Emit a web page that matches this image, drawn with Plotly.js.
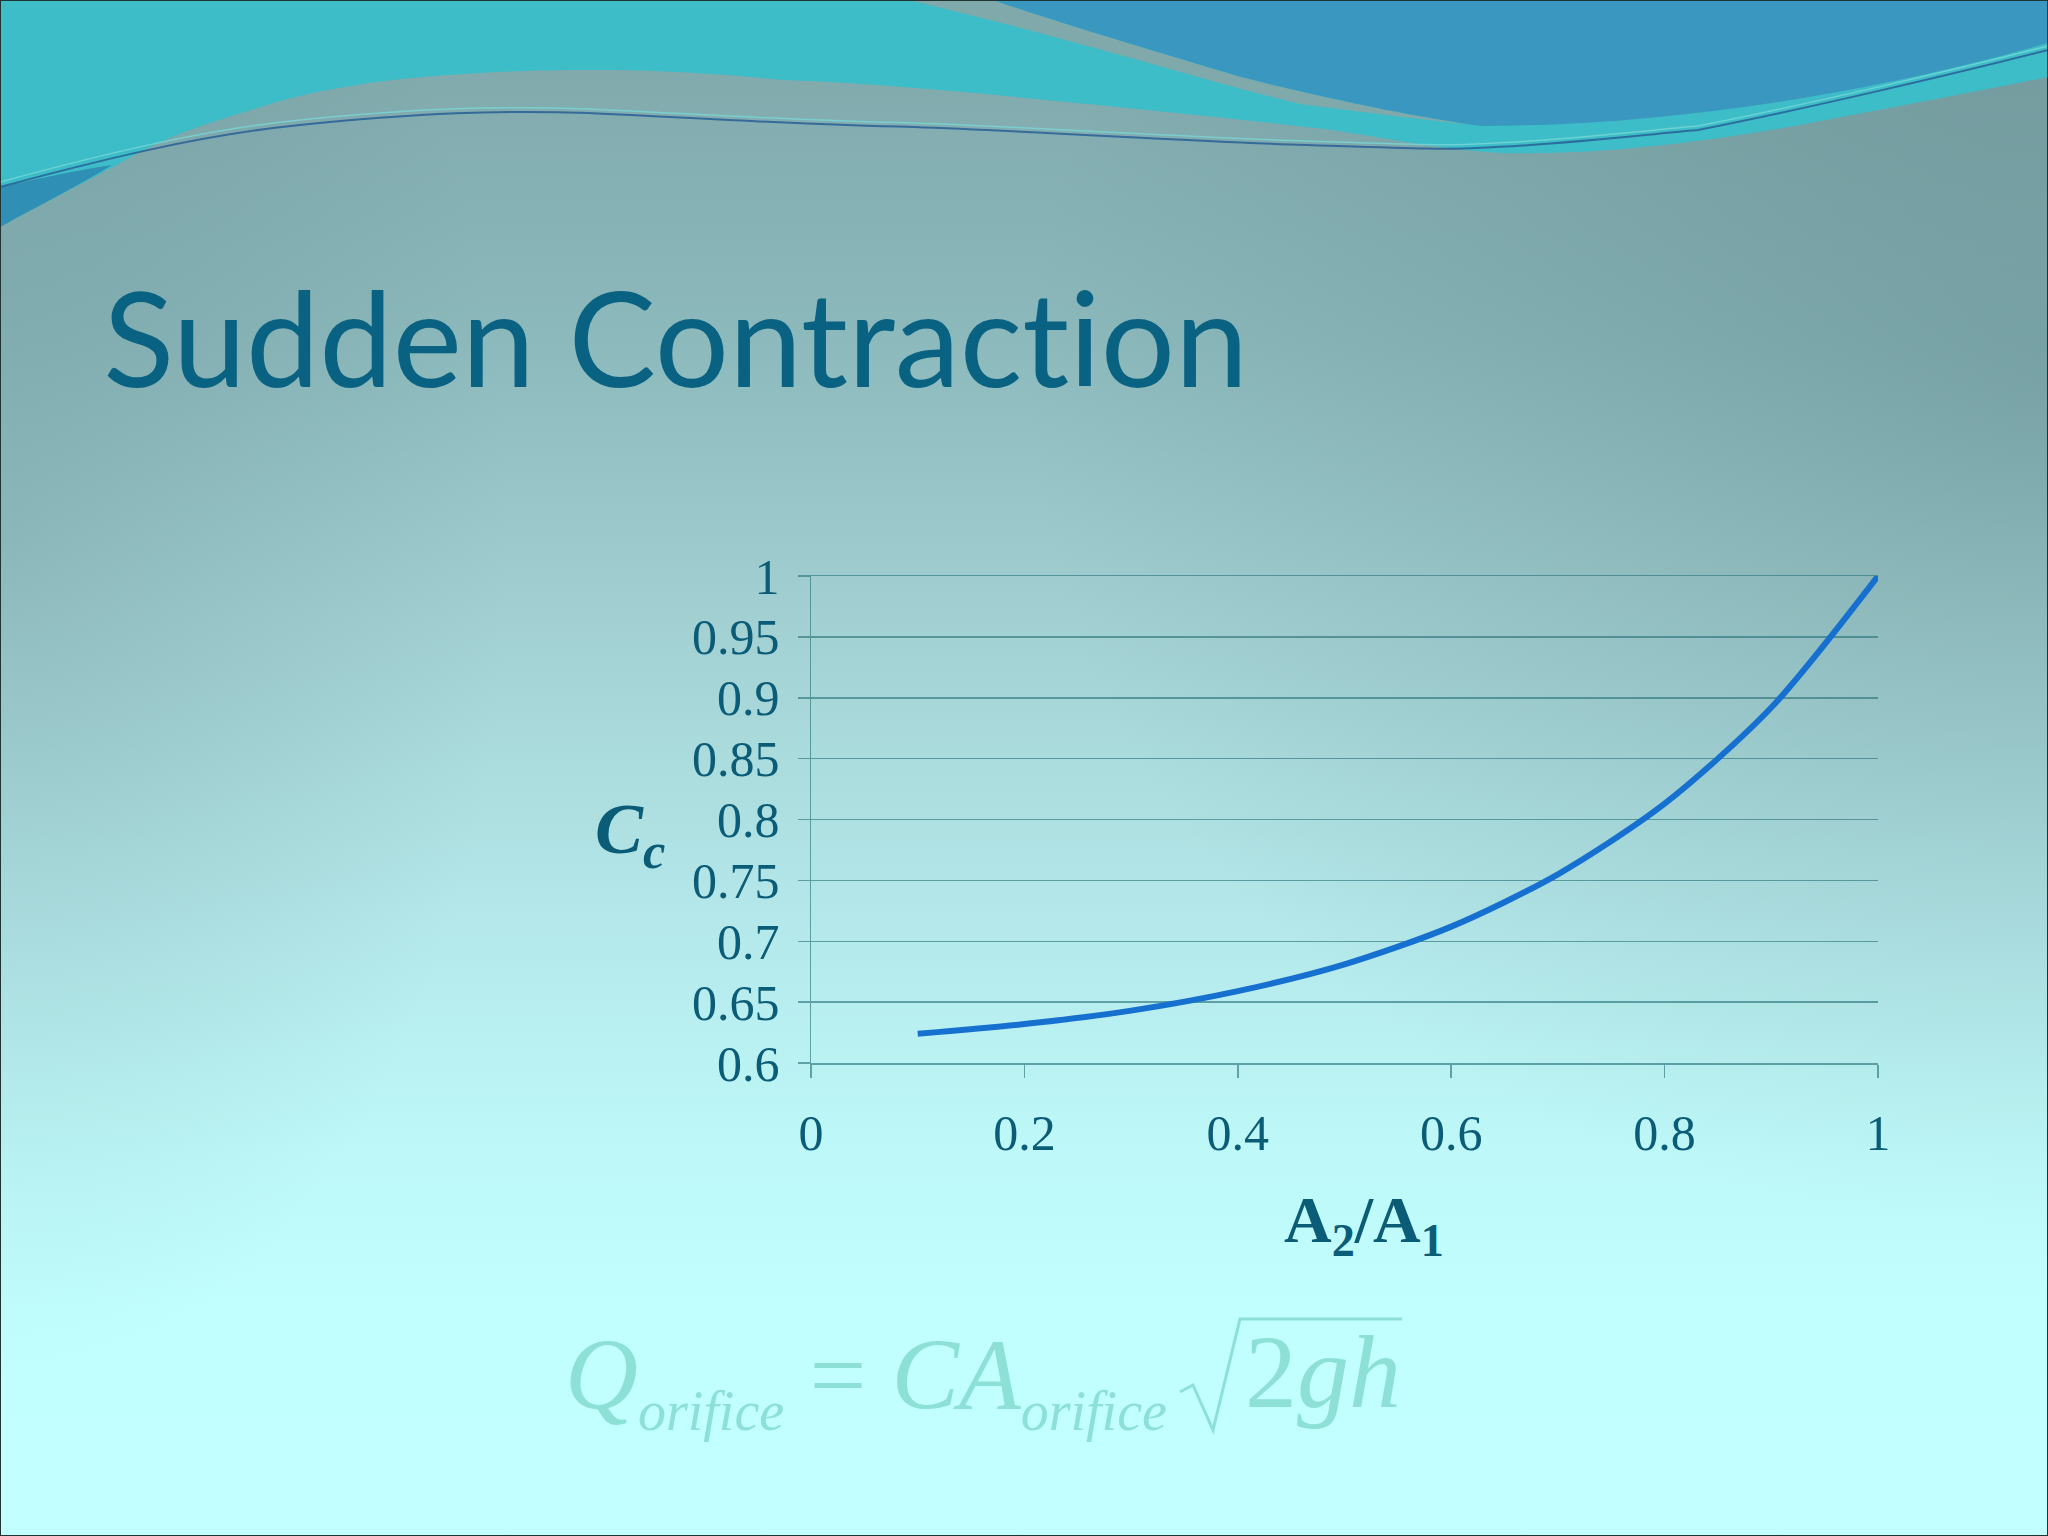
<!DOCTYPE html>
<html>
<head>
<meta charset="utf-8">
<script src="https://cdn.plot.ly/plotly-3.0.1.min.js"></script>
<style>
  html, body { margin: 0; padding: 0; }
  #chart {
    width: 2048px; height: 1536px;
    background:
      radial-gradient(ellipse 50% 55% at 100% 25%, rgba(60,95,100,0.28), rgba(60,95,100,0) 100%),
      radial-gradient(ellipse 25% 55% at 0% 35%, rgba(60,95,100,0.18), rgba(60,95,100,0) 100%),
      linear-gradient(to bottom, #7ea6a9 0%, #8cb9bc 22%, #a2d0d2 40%, #b4e8ea 60%, #bef8f8 75%, #c1fefe 85%, #c2ffff 100%);
  }
  #chart text, #chart tspan {
    font-variant-ligatures: none !important;
    font-feature-settings: "liga" 0, "clig" 0, "calt" 0, "dlig" 0 !important;
  }
</style>
</head>
<body>
<div id="chart"></div>
<script>
// ---- data ----
const areaRatio = [0.1, 0.2, 0.3, 0.4, 0.5, 0.6, 0.7, 0.8, 0.9, 1.0];
const contractionCoef = [0.624, 0.632, 0.643, 0.659, 0.681, 0.712, 0.755, 0.813, 0.892, 1.0];
const xTickVals = [0, 0.2, 0.4, 0.6, 0.8, 1];
const xTickText = ["0", "0.2", "0.4", "0.6", "0.8", "1"];
const yTickVals = [0.6, 0.65, 0.7, 0.75, 0.8, 0.85, 0.9, 0.95, 1];
const yTickText = ["0.6", "0.65", "0.7", "0.75", "0.8", "0.85", "0.9", "0.95", "1"];
const slideTitle = "Sudden Contraction";
const yLabel = "<b><i>C<sub>c</sub></i></b>";
const xLabel = "<b>A<sub>2</sub>/A<sub>1</sub></b>";

// ---- helpers (pixel -> paper) ----
const W = 2048, H = 1536;
const px = v => v / W;
const py = v => 1 - v / H;
const pth = s => s.replace(/(-?\d+\.?\d*),(-?\d+\.?\d*)/g, (m, a, b) => (a / W).toFixed(5) + ',' + (1 - b / H).toFixed(5));

const ink = '#0b5c76';
const gridCol = 'rgba(45,118,124,0.65)';
const formulaCol = '#8de0d6';

const trace = {
  x: areaRatio, y: contractionCoef,
  type: 'scatter', mode: 'lines',
  line: { color: '#1670cf', width: 6, shape: 'spline', smoothing: 0.8 },
  cliponaxis: false, hoverinfo: 'skip', showlegend: false
};

const shapes = [
  // turquoise wave band
  { type: 'path', layer: 'below', xref: 'paper', yref: 'paper', line: { width: 0 }, fillcolor: '#3dbdc7',
    path: pth('M0,0 L2048,0 L2048,77 C1960,95 1894,107 1800,125 C1700,143 1600,155 1502,153 C1420,148 1360,132 1306,127 C1200,115 1100,105 1045,100 C950,90 850,82 784,80 C700,72 650,70 588,70 C500,70 440,75 392,80 C330,88 290,97 261,107 C200,125 160,140 131,157 C80,185 40,205 0,227 Z') },
  // bluish band at the left edge
  { type: 'path', layer: 'below', xref: 'paper', yref: 'paper', line: { width: 0 }, fillcolor: 'rgba(45,135,178,0.85)',
    path: pth('M0,187 C40,178 80,170 112,165 C80,185 40,205 0,227 Z') },
  // grey wedge
  { type: 'path', layer: 'below', xref: 'paper', yref: 'paper', line: { width: 0 }, fillcolor: '#80a9ac',
    path: pth('M908,0 L993,0 C1050,20 1150,50 1241,77 C1320,97 1420,118 1482,126 C1400,117 1330,108 1300,104 C1200,80 1080,40 908,0 Z') },
  // blue region
  { type: 'path', layer: 'below', xref: 'paper', yref: 'paper', line: { width: 0 }, fillcolor: '#3a98c0',
    path: pth('M993,0 L2048,0 L2048,43 C1900,85 1700,125 1482,126 C1420,118 1320,97 1241,77 C1150,50 1050,20 993,0 Z') },
  // thin wave lines
  { type: 'path', layer: 'below', xref: 'paper', yref: 'paper', line: { color: 'rgba(40,95,150,0.85)', width: 2 },
    path: pth('M0,187 C100,160 200,135 300,125 C420,113 500,110 588,113 C700,118 800,125 914,127 C1050,132 1200,142 1306,145 C1400,148 1450,150 1476,148 C1560,145 1640,135 1698,130 C1800,110 1950,75 2048,50') },
  { type: 'path', layer: 'below', xref: 'paper', yref: 'paper', line: { color: 'rgba(120,215,215,0.8)', width: 1.5 },
    path: pth('M0,182 C100,155 200,130 300,120 C420,108 500,106 588,109 C700,114 800,121 914,123 C1050,128 1200,138 1306,141 C1400,144 1450,146 1476,144 C1560,141 1640,131 1698,126 C1800,106 1950,71 2048,46') },
  // radical sign of formula
  { type: 'path', layer: 'above', xref: 'paper', yref: 'paper', line: { color: formulaCol, width: 3 },
    path: pth('M1180,1392 L1193,1385 L1213,1430 L1240,1319 L1402,1319') },
  // slide border
  { type: 'rect', layer: 'above', xref: 'paper', yref: 'paper', x0: 0, x1: 1, y0: 0, y1: 1,
    line: { color: '#203434', width: 2 } }
];

const annotations = [
  { text: slideTitle, xref: 'paper', yref: 'paper', x: px(100), y: py(336), xanchor: 'left', yanchor: 'middle',
    showarrow: false, font: { family: 'Lato', size: 131, color: '#0a6283' } },
  { text: yLabel, xref: 'paper', yref: 'paper', x: px(630), y: py(834), xanchor: 'center', yanchor: 'middle',
    showarrow: false, font: { family: 'Liberation Serif', size: 72, color: ink } },
  { text: xLabel, xref: 'paper', yref: 'paper', x: px(1364), y: py(1224), xanchor: 'center', yanchor: 'middle',
    showarrow: false, font: { family: 'Liberation Serif', size: 66, color: ink } },
  { text: '<i>Q</i><sub><span style="font-size:56px"><i>orifice</i></span></sub> = <i>CA</i><sub><span style="font-size:56px"><i>orifice</i></span></sub>',
    xref: 'paper', yref: 'paper', x: px(563), y: py(1380), xanchor: 'left', yanchor: 'middle',
    showarrow: false, font: { family: 'Liberation Serif', size: 101, color: formulaCol } },
  { text: '2<i>gh</i>', xref: 'paper', yref: 'paper', x: px(1243), y: py(1371), xanchor: 'left', yanchor: 'middle',
    showarrow: false, font: { family: 'Liberation Serif', size: 104, color: formulaCol } }
];

const layout = {
  width: W, height: H, autosize: false,
  margin: { l: 0, r: 0, t: 0, b: 0, pad: 0 },
  paper_bgcolor: 'rgba(0,0,0,0)', plot_bgcolor: 'rgba(0,0,0,0)',
  showlegend: false,
  xaxis: {
    domain: [px(811), px(1878)], range: [0, 1],
    tickvals: xTickVals, ticktext: xTickText,
    ticks: 'outside', ticklen: 13, tickwidth: 1.5, tickcolor: gridCol,
    showgrid: false, zeroline: false, showline: true, mirror: true, linecolor: gridCol, linewidth: 1.5,
    tickfont: { family: 'Liberation Serif', size: 50, color: ink },
    ticklabelstandoff: 12, fixedrange: true
  },
  yaxis: {
    domain: [py(1063), py(576)], range: [0.6, 1],
    tickvals: yTickVals, ticktext: yTickText,
    ticks: 'outside', ticklen: 12, tickwidth: 1.5, tickcolor: gridCol,
    showgrid: true, gridcolor: gridCol, gridwidth: 1.5,
    zeroline: false, showline: true, linecolor: gridCol, linewidth: 1.5,
    tickfont: { family: 'Liberation Serif', size: 50, color: ink },
    ticklabelstandoff: 8, fixedrange: true
  },
  shapes: shapes,
  annotations: annotations
};

Plotly.newPlot('chart', [trace], layout, { displayModeBar: false, staticPlot: true });
</script>
</body>
</html>
